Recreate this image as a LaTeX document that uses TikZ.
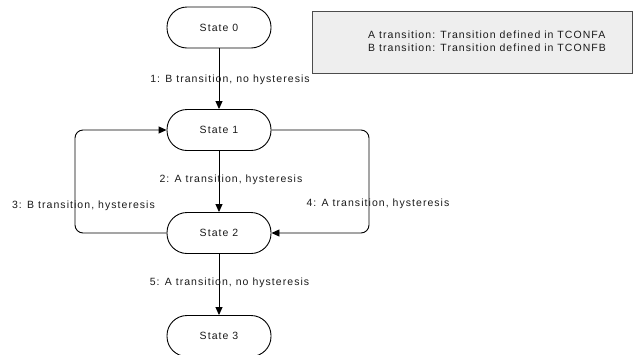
\documentclass[tikz,border=0pt]{standalone}
\usepackage{fontspec}
\setmainfont{Liberation Sans}[LetterSpace=10]
\usetikzlibrary{arrows.meta}
\definecolor{txt}{HTML}{1A1A1A}
\definecolor{legfill}{HTML}{EEEEEE}
\tikzset{
  statebox/.style={draw=black, line width=0.9pt, rounded corners=20pt, minimum width=104pt, minimum height=41pt, inner sep=0pt, font=\fontsize{10.5}{12}\selectfont, text=txt},
  lbl/.style={inner sep=0pt, font=\fontsize{10.5}{12}\selectfont, text=txt},
  conn/.style={draw=black, line width=0.9pt, -{Triangle[length=8pt,width=7pt]}},
  loopconn/.style={conn, rounded corners=8pt},
}
\begin{document}
\begin{tikzpicture}[x=1pt,y=-1pt]
\useasboundingbox (0,0) rectangle (634,354);
\node[statebox] (s0) at (219,27.5) {State 0};
\node[statebox] (s1) at (219,130) {State 1};
\node[statebox] (s2) at (219,233) {State 2};
\node[statebox] (s3) at (219,336) {State 3};
\node[draw=black!70, line width=0.8pt, fill=legfill, minimum width=320pt, minimum height=62pt, inner sep=0pt] (leg) at (472,42) {};
\node[lbl, align=left, anchor=west, font=\fontsize{10.5}{12.5}\selectfont] (legtxt) at (368,41) {A transition: Transition defined in TCONFA\\B transition: Transition defined in TCONFB};
\draw[conn] (s0.south) -- (s1.north);
\draw[conn] (s1.south) -- (s2.north);
\draw[conn] (s2.south) -- (s3.north);
\coordinate (lt) at (75,130);
\coordinate (lb) at (75,233);
\coordinate (rt) at (369,130);
\coordinate (rb) at (369,233);
\draw[loopconn] (s2.west) -- (lb) -- (lt) -- (s1.west);
\draw[loopconn] (s1.east) -- (rt) -- (rb) -- (s2.east);
\node[lbl] (l1) at (230,80) {1: B transition, no hysteresis};
\node[lbl] (l2) at (231,180) {2: A transition, hysteresis};
\node[lbl] (l3) at (83.5,206) {3: B transition, hysteresis};
\node[lbl] (l4) at (378,204) {4: A transition, hysteresis};
\node[lbl] (l5) at (229.5,283) {5: A transition, no hysteresis};
\end{tikzpicture}
\end{document}
